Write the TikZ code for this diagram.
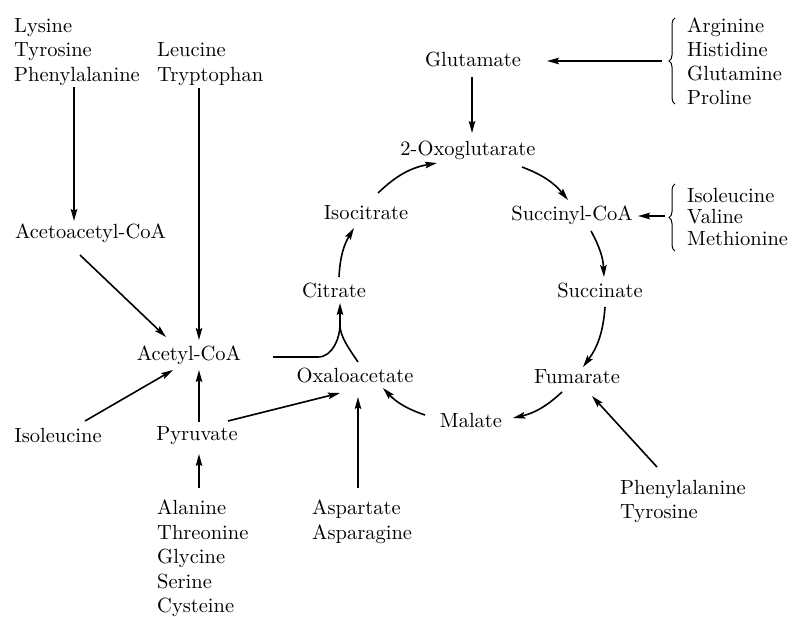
\documentclass[tikz,border=0pt]{standalone}
\usepackage{fontspec}
\setmainfont{lmroman10-regular}[Extension=.otf]
\usetikzlibrary{arrows.meta,decorations.pathreplacing}
\begin{document}
\begin{tikzpicture}[x=1pt,y=-1pt,
  lbl/.style={inner sep=0pt, font=\fontsize{20.5}{24.5}\selectfont},
  blk/.style={lbl, align=left, anchor=north west},
  arr/.style={line width=1.6pt, -{Stealth[length=12pt,width=6.5pt,inset=2pt]}},
  ln/.style={line width=1.6pt},
  brc/.style={line width=1pt, decorate, decoration={brace, amplitude=6pt}}]
\useasboundingbox (0,0) rectangle (794,616);

% blocks
\node[blk] (lys) at (14,18) {Lysine\\Tyrosine\\Phenylalanine};
\node[blk] (leu) at (157,42.5) {Leucine\\Tryptophan};
\node[blk] (ala) at (157,500) {Alanine\\Threonine\\Glycine\\Serine\\Cysteine};
\node[blk] (asp) at (312,500) {Aspartate\\Asparagine};
\node[blk] (phe) at (620,480) {Phenylalanine\\Tyrosine};
\node[blk, font=\fontsize{20.5}{24}\selectfont] (arg) at (687,18) {Arginine\\Histidine\\Glutamine\\Proline};
\node[blk, font=\fontsize{20.5}{21.5}\selectfont] (ilv) at (687,188) {Isoleucine\\Valine\\Methionine};

% single nodes
\node[lbl] (acac) at (90.5,233) {Acetoacetyl-CoA};
\node[lbl] (acet) at (189,355) {Acetyl-CoA};
\node[lbl] (ile) at (58,435) {Isoleucine};
\node[lbl] (pyr) at (197,436) {Pyruvate};
\node[lbl] (oxa) at (355,375) {Oxaloacetate};
\node[lbl] (cit) at (334,290) {Citrate};
\node[lbl] (iso) at (366,213) {Isocitrate};
\node[lbl] (oxo) at (468,150) {2-Oxoglutarate};
\node[lbl] (glu) at (473,59) {Glutamate};
\node[lbl] (suc) at (572,215) {Succinyl-CoA};
\node[lbl] (succ) at (600,290) {Succinate};
\node[lbl] (fum) at (577,377) {Fumarate};
\node[lbl] (mal) at (471,420) {Malate};

% braces
\draw[brc] ([shift={(-12,86)}]arg.north west) -- ([shift={(-12,0)}]arg.north west);
\coordinate (argtip) at ([shift={(-25,43)}]arg.north west);
\draw[brc] ([shift={(-12,63)}]ilv.north west) -- ([shift={(-12,-4)}]ilv.north west);
\coordinate (ilvtip) at ([shift={(-22,28)}]ilv.north west);

% feeder arrows
\draw[arr] ([shift={(60,69)}]lys.north west) -- ([shift={(-16.5,-12)}]acac.center);
\draw[arr] ([shift={(42,45.5)}]leu.north west) -- ([shift={(10,-15)}]acet.center);
\draw[arr] ([shift={(-10.5,22)}]acac.center) -- ([shift={(-23,-18)}]acet.center);
\draw[arr] ([shift={(27,-14)}]ile.center) -- ([shift={(-16,15)}]acet.center);
\draw[arr] ([shift={(2,-14)}]pyr.center) -- ([shift={(10,15)}]acet.center);
\draw[arr] ([shift={(42,-12)}]ala.north west) -- ([shift={(2,18)}]pyr.center);
\draw[arr] ([shift={(31,-15)}]pyr.center) -- ([shift={(-15,18)}]oxa.center);
\draw[arr] ([shift={(46,-12)}]asp.north west) -- ([shift={(3,22)}]oxa.center);
\draw[arr] ([shift={(-1,18)}]glu.center) -- ([shift={(4,-17)}]oxo.center);
\draw[arr] (argtip) -- ([shift={(74,2)}]glu.center);
\draw[arr] (ilvtip) -- ([shift={(66,1)}]suc.center);
\draw[arr] ([shift={(37,-13)}]phe.north west) -- ([shift={(15,19)}]fum.center);

% merge into citrate
\coordinate (mrg) at ([shift={(6,35)}]cit.center);
\draw[ln] ([shift={(84,2)}]acet.center) -- ++(45,0) .. controls +(15,0) and +(0,12) .. (mrg);
\draw[arr] ([shift={(3,-13)}]oxa.center) .. controls +(-8,-12) and +(0,12) .. (mrg) -- ([shift={(6,13)}]cit.center);

% cycle
\draw[arr] ([shift={(5,-13)}]cit.center) to[bend left=14] ([shift={(-12,15)}]iso.center);
\draw[arr] ([shift={(12,-20)}]iso.center) to[bend left=17] ([shift={(-31,13)}]oxo.center);
\draw[arr] ([shift={(54,17)}]oxo.center) to[bend left=15] ([shift={(-4,-15)}]suc.center);
\draw[arr] ([shift={(19,16)}]suc.center) to[bend left=13] ([shift={(4,-13)}]succ.center);
\draw[arr] ([shift={(5,17)}]succ.center) to[bend left=16] ([shift={(6,-10)}]fum.center);
\draw[arr] ([shift={(-15,15)}]fum.center) to[bend left=15] ([shift={(42,-2)}]mal.center);
\draw[arr] ([shift={(-46,-5)}]mal.center) to[bend left=14] ([shift={(28,13)}]oxa.center);
\end{tikzpicture}
\end{document}
